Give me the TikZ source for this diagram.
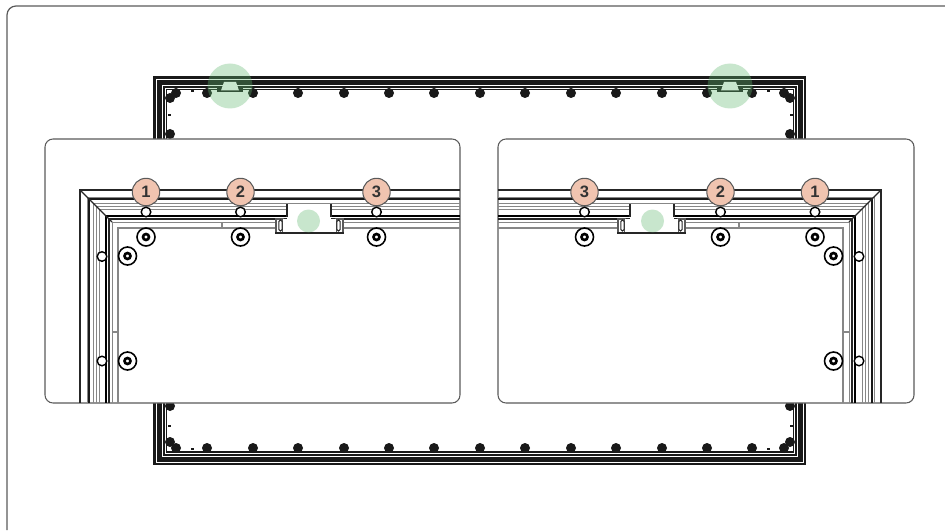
\documentclass[tikz,border=0pt]{standalone}
\usepackage{fontspec}
\setmainfont{Liberation Sans}
\definecolor{badgefill}{RGB}{240,196,176}
\definecolor{markgreen}{RGB}{98,184,112}
\definecolor{edgegray}{RGB}{90,90,90}
\definecolor{railgray}{RGB}{135,135,135}
\tikzset{
  badge/.style={circle, draw=edgegray, fill=badgefill, line width=0.6pt, minimum size=15.6pt, inner sep=0pt,
    font=\bfseries\fontsize{9.4}{10}\selectfont, text=black!80},
  greenmark/.style={fill=markgreen, fill opacity=0.35},
  rivet/.style={draw=black, fill=white, line width=0.8pt},
  screwring/.style={draw=black, fill=white, line width=0.9pt},
  screwcore/.style={draw=black, fill=white, line width=1.5pt},
  panelbox/.style={draw=edgegray, fill=white, line width=0.6pt, rounded corners=0.16cm}
}
\begin{document}
\begin{tikzpicture}[x=0.02cm, y=-0.02cm]
\useasboundingbox (0,0) rectangle (945,530);

% Outer sheet
\draw[edgegray, line width=0.7pt, rounded corners=0.18cm] (7,530) -- (7,6) -- (945,6);

% Display frame
\fill[black!90] (153,76) rectangle (806,465);
\fill[white] (167,90) rectangle (793,451);
\draw[white, line width=0.25pt] (156.5,79) rectangle (803.5,462);
\draw[white, line width=0.3pt] (162,85) rectangle (797,456);
\draw[white, line width=0.3pt] (165,88) rectangle (794.5,453);

% Frame dots
\foreach \x in {176,207,253,298,344,389,434,480,525,571,616,662,707,752,784} {
  \fill[black!90] (\x,93) circle[radius=5];
  \fill[black!90] (\x,448) circle[radius=5];
}
\foreach \x in {170,790} \foreach \y in {98,134,406,442}
  \fill[black!90] (\x,\y) circle[radius=5];
\foreach \x/\y in {192/91.5,768/91.5,192/449,768/449,169/115,791/115,169/426,791/426}
  \fill[black!90] (\x-1.5,\y-1) rectangle (\x+1.5,\y+1);

% Top brackets with green marks
\foreach \x in {230,730} {
  \fill[black!90] (\x-13,87) rectangle (\x+13,92);
  \fill[white] (\x-6,82) -- (\x+6,82) -- (\x+9,90.5) -- (\x-9,90.5) -- cycle;
  \fill[greenmark] (\x,86) circle[radius=22.5];
}

% Detail panels
\draw[panelbox] (45,139) rectangle (460,403);
\draw[panelbox] (498,139) rectangle (914,403);

\foreach \shx/\mir/\endx/\side in {0/1/460/L,961/-1/463/R} {
  \begin{scope}[shift={(\shx,0)}, xscale=\mir]
    % Rails
    \foreach \d/\c/\w in {0/black!85/0.7,7/railgray/0.55,9/black!90/1.0,13/railgray/0.5,16/railgray/0.5,
        19/railgray/0.5,26/black/0.9,29/black!85/0.8,32/railgray/0.55,38/railgray/0.7}
      \draw[\c, line width=\w pt] (\endx,190+\d) -- (80+\d,190+\d) -- (80+\d,403);
    \draw[black!85, line width=0.7pt] (80,190) -- (112,222);
    \draw[railgray, line width=0.6pt] (222,222) -- (222,228);
    \draw[railgray, line width=0.6pt] (112,332) -- (118,332);

    % Bracket cut-out
    \fill[white] (287,204) rectangle (331,219);
    \draw[black!85, line width=0.6pt] (287,204) -- (287,217);
    \draw[black!85, line width=0.6pt] (331,204) -- (331,217);
    \draw[edgegray, fill=white, line width=0.6pt] (276,233) -- (276,219) -- (283,219) -- (283,233);
    \draw[edgegray, fill=white, line width=0.6pt] (343,233) -- (343,219) -- (336,219) -- (336,233);
    \fill[white] (283.4,219) rectangle (335.6,232.6);
    \draw[black!85, line width=0.6pt] (275,233) -- (344,233);
    \foreach \x in {280.5,338.5}
      \draw[black!85, line width=0.6pt, rounded corners=0.03cm] (\x-1.6,220) rectangle (\x+1.6,231);
    \fill[greenmark] (308.5,221) circle[radius=11.5];

    % Screws and rivets
    \foreach \x/\y in {146/237,240.5/237,376.5/237,127.5/256,127.5/361} {
      \draw[screwring] (\x,\y) circle[radius=9];
      \draw[screwcore] (\x,\y) circle[radius=3];
    }
    \foreach \x/\y in {146/212,240.5/212,376.5/212,102/256.5,102/361}
      \draw[rivet] (\x,\y) circle[radius=4.8];

    % Numbered badges
    \foreach \x/\n in {146/1,240.5/2,376.5/3}
      \node[badge] (badge\side\n) at (\x,192) {\n};
  \end{scope}
}
\end{tikzpicture}
\end{document}
